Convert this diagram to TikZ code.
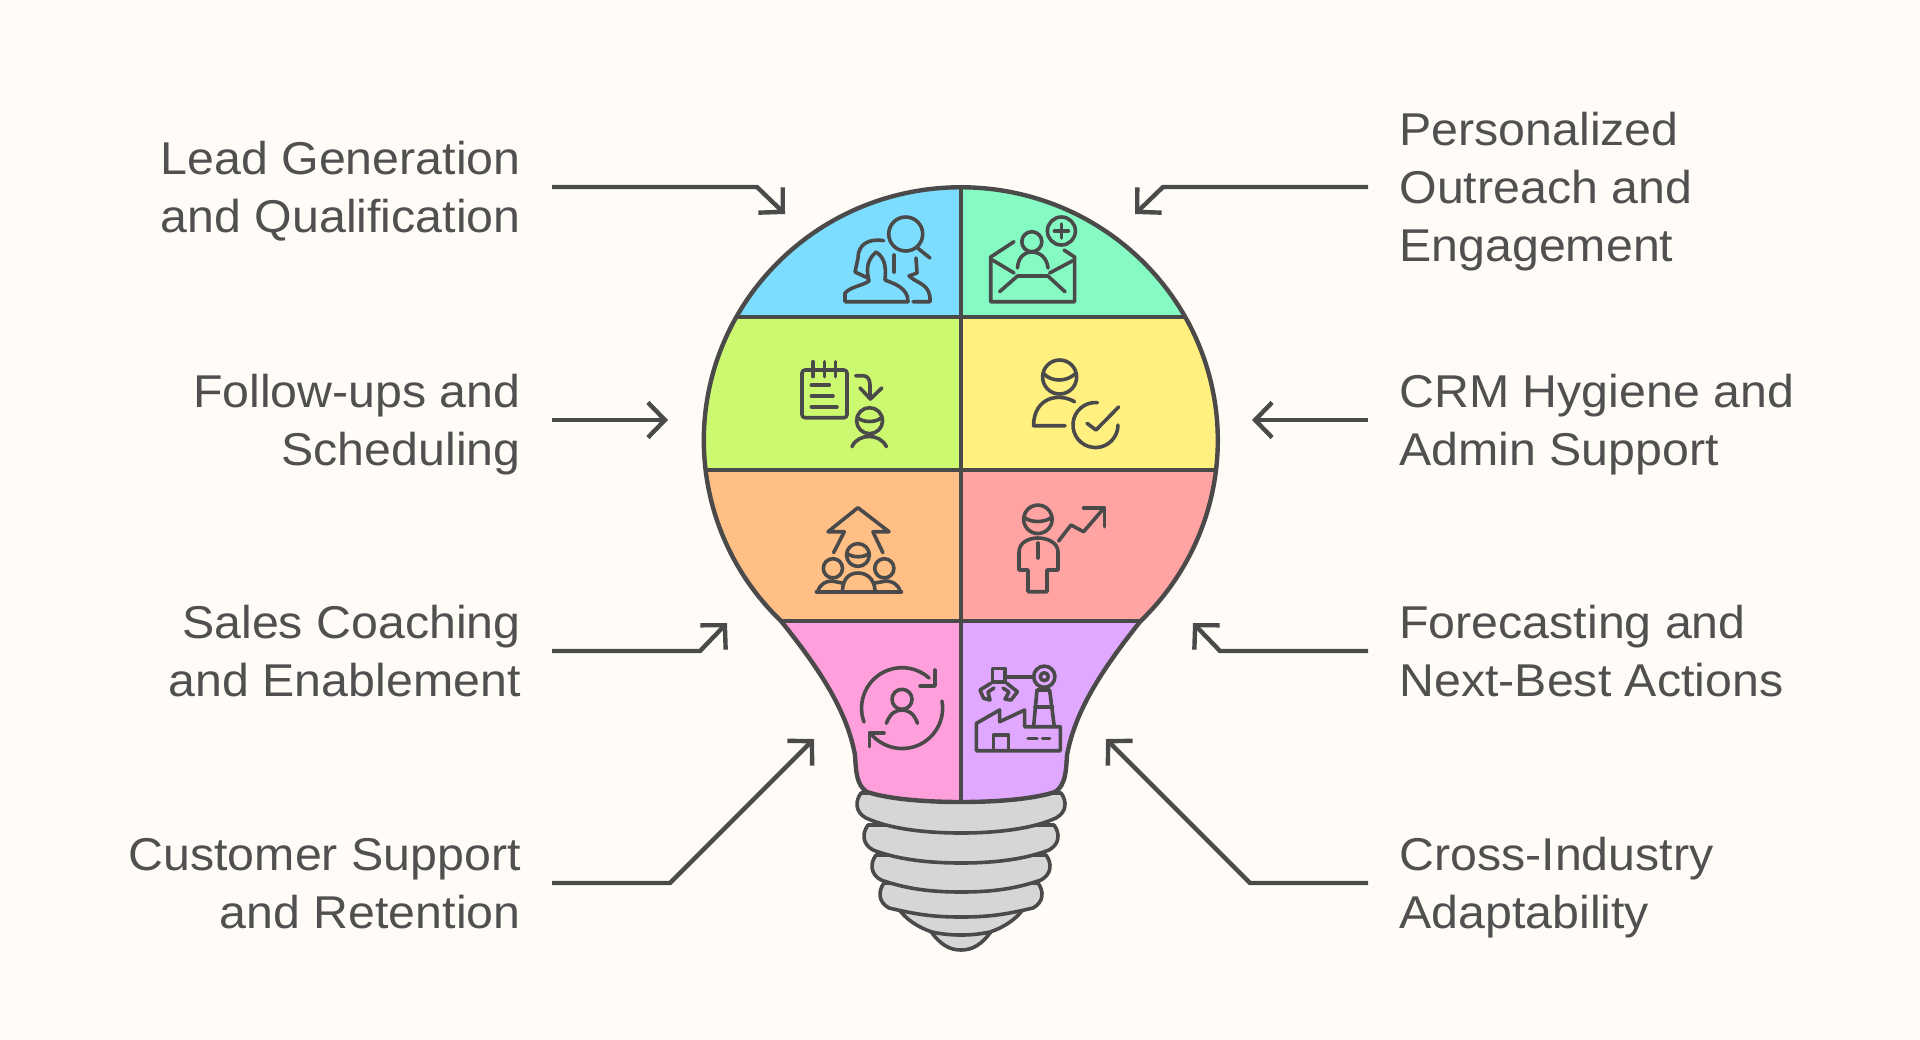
\documentclass[tikz,border=0pt]{standalone}
\usepackage{fontspec}
\setmainfont[FakeStretch=1.05]{Liberation Sans}
\usetikzlibrary{arrows.meta}
\definecolor{bgcol}{HTML}{FFFCF8}
\definecolor{inkcol}{HTML}{4A4A4A}
\definecolor{txtcol}{HTML}{505050}
\definecolor{basecol}{HTML}{D6D6D6}
\definecolor{bluecol}{HTML}{7DDDFF}
\definecolor{mintcol}{HTML}{85FBC3}
\definecolor{limecol}{HTML}{CDF970}
\definecolor{yellcol}{HTML}{FFF080}
\definecolor{orngcol}{HTML}{FFBF85}
\definecolor{redcol}{HTML}{FFA3A3}
\definecolor{pinkcol}{HTML}{FFA0DC}
\definecolor{purpcol}{HTML}{E0A8FF}
\newcommand{\lblstrut}{\rule[-6pt]{0pt}{28.5pt}}
\newcommand{\bulbpath}{(781,621) arc[start angle=225.6, end angle=-45.6, x radius=128.5pt, y radius=126.5pt]
  .. controls (1100,672) and (1075,712) .. (1067,755)
  .. controls (1066,770) and (1066,785) .. (1055,792)
  .. controls (1030,800) and (990,802) .. (961,802)
  .. controls (932,802) and (892,800) .. (867,792)
  .. controls (856,785) and (856,770) .. (855,755)
  .. controls (847,712) and (822,672) .. (781,621) -- cycle}
\tikzset{
  leftlbl/.style={anchor=east,font=\fontsize{23}{29}\selectfont,text=txtcol,align=right,inner xsep=15.5pt,inner ysep=0pt},
  rightlbl/.style={anchor=west,font=\fontsize{23}{29}\selectfont,text=txtcol,align=left,inner xsep=15.5pt,inner ysep=0pt},
  conn/.style={draw=inkcol,line width=2.2pt,->},
  icon/.style={draw=inkcol,line width=1.8pt,line cap=round,line join=round},
}
\begin{document}
\begin{tikzpicture}[x=0.5pt,y=-0.5pt,>={Straight Barb[length=8.5pt,width=17.5pt]}]
\useasboundingbox (0,0) rectangle (1920,1039);
\fill[bgcol] (0,0) rectangle (1920,1039);
% labels
\node[leftlbl] (lead) at (552,187) {\lblstrut Lead Generation\\\lblstrut and Qualification};
\node[leftlbl] (follow) at (552,420) {\lblstrut Follow-ups and\\\lblstrut Scheduling};
\node[leftlbl] (coach) at (552,651) {\lblstrut Sales Coaching\\\lblstrut and Enablement};
\node[leftlbl] (support) at (552,883) {\lblstrut Customer Support\\\lblstrut and Retention};
\node[rightlbl] (outreach) at (1368,187) {\lblstrut Personalized\\\lblstrut Outreach and\\\lblstrut Engagement};
\node[rightlbl] (crm) at (1368,420) {\lblstrut CRM Hygiene and\\\lblstrut Admin Support};
\node[rightlbl] (forecast) at (1368,651) {\lblstrut Forecasting and\\\lblstrut Next-Best Actions};
\node[rightlbl] (adapt) at (1368,883) {\lblstrut Cross-Industry\\\lblstrut Adaptability};
% connectors
\coordinate (leadbend) at (757,187);
\coordinate (leadtip) at (785,214);
\coordinate (followtip) at (668,420);
\coordinate (coachbend) at (700,651);
\coordinate (coachtip) at (727,623);
\coordinate (supportbend) at (670,883);
\coordinate (supporttip) at (814,739);
\coordinate (outreachbend) at (1163,187);
\coordinate (outreachtip) at (1135,214);
\coordinate (crmtip) at (1252,420);
\coordinate (forecastbend) at (1220,651);
\coordinate (forecasttip) at (1193,623);
\coordinate (adaptbend) at (1250,883);
\coordinate (adapttip) at (1106,739);
\draw[conn] (lead.east) -- (leadbend) -- (leadtip);
\draw[conn] (follow.east) -- (followtip);
\draw[conn] (coach.east) -- (coachbend) -- (coachtip);
\draw[conn] (support.east) -- (supportbend) -- (supporttip);
\draw[conn] (outreach.west) -- (outreachbend) -- (outreachtip);
\draw[conn] (crm.west) -- (crmtip);
\draw[conn] (forecast.west) -- (forecastbend) -- (forecasttip);
\draw[conn] (adapt.west) -- (adaptbend) -- (adapttip);
% screw base, lowest ring first
\draw[draw=inkcol,line width=1.8pt,fill=basecol] (930,930) .. controls (940,945) and (950,950) .. (961,950) .. controls (972,950) and (982,945) .. (992,930) -- cycle;
\draw[draw=inkcol,line width=1.8pt,fill=basecol] (896,905) .. controls (905,920) and (920,928) .. (932,932) .. controls (950,936) and (972,936) .. (990,932) .. controls (1002,928) and (1017,920) .. (1026,905) -- cycle;
\foreach \hw/\yt/\yb in {81/883/917,89/855/892,97/825/863,104/793/833}{
  \draw[draw=inkcol,line width=1.8pt,fill=basecol,line join=round]
    ({961-\hw+4},\yt) .. controls ({961-\hw-2},{\yt+8}) and ({961-\hw-2},{\yt+19}) .. ({961-\hw+9},{\yt+25})
    .. controls ({961-\hw+35},{\yb-3}) and ({961-30},\yb) .. (961,\yb)
    .. controls ({961+30},\yb) and ({961+\hw-35},{\yb-3}) .. ({961+\hw-9},{\yt+25})
    .. controls ({961+\hw+2},{\yt+19}) and ({961+\hw+2},{\yt+8}) .. ({961+\hw-4},\yt) -- cycle;
}
% bulb
\begin{scope}
\clip \bulbpath;
\fill[bluecol] (690,170) rectangle (961,317);
\fill[mintcol] (961,170) rectangle (1230,317);
\fill[limecol] (690,317) rectangle (961,470);
\fill[yellcol] (961,317) rectangle (1230,470);
\fill[orngcol] (690,470) rectangle (961,621);
\fill[redcol] (961,470) rectangle (1230,621);
\fill[pinkcol] (690,621) rectangle (961,810);
\fill[purpcol] (961,621) rectangle (1230,810);
\draw[draw=inkcol,line width=2.4pt] (961,170) -- (961,810);
\draw[draw=inkcol,line width=2.4pt] (690,317) -- (1230,317);
\draw[draw=inkcol,line width=2.4pt] (690,470) -- (1230,470);
\draw[draw=inkcol,line width=2.4pt] (690,621) -- (1230,621);
\end{scope}
\draw[draw=inkcol,line width=2.2pt] \bulbpath;
% blue: people and magnifier
\draw[icon] (905.7,234) circle[radius=8.5pt];
\draw[icon] (917.5,248) -- (930,258);
\draw[icon] (845,293) .. controls (852,286) and (862,286) .. (869,281) .. controls (867,272) and (865,262) .. (876,252) .. controls (886,258) and (886,270) .. (885,280) .. controls (895,284) and (908,288) .. (908,301.7) -- (845,301.7) -- cycle;
\draw[icon] (883.6,240.7) .. controls (868,238) and (858,245) .. (858,258) -- (855,272) -- (868,278);
\draw[icon] (894,255) -- (894,272);
\draw[icon] (916,258) -- (917,273) -- (909,276) .. controls (918,284) and (931,284) .. (930,301.7) -- (913,301.7);
% mint: open envelope with person
\draw[icon] (1061.4,231) circle[radius=7pt];
\draw[icon] (1061.4,224) -- (1061.4,238) (1054.4,231) -- (1068.4,231);
\draw[icon] (1031.8,241.7) circle[radius=5pt];
\draw[icon] (1017.5,268) .. controls (1018,258) and (1024,252) .. (1031.8,252) .. controls (1040,252) and (1047,258) .. (1048,268);
\draw[icon] (1014,241.7) -- (990.7,257) -- (990.7,301.7) -- (1074.6,301.7) -- (1074.6,257) -- (1064,250);
\draw[icon] (992.5,260) -- (1014,273) (1074,260) -- (1049.6,273);
\draw[icon] (999.6,291.7) -- (1017.5,276) -- (1047.9,276) -- (1065,291.7);
% lime: notepad, arrow and person
\draw[icon,rounded corners=1.5pt] (802,370) rectangle (847,417.7);
\draw[icon] (813,361.7) -- (813,376.7) (824.6,361.7) -- (824.6,376.7) (835.4,361.7) -- (835.4,376.7);
\draw[icon] (811.4,385) -- (829.3,385) (811.4,395.7) -- (833,395.7) (811.4,406.7) -- (837,406.7);
\draw[icon] (855.7,375.7) -- (863,375.7) .. controls (868,375.7) and (870,380) .. (870,385) -- (870,398);
\draw[icon] (860,388) -- (870.4,399) -- (881.8,388);
\draw[icon] (869.6,420.7) circle[radius=6.5pt];
\draw[icon] (857,417) .. controls (862,423) and (877,423) .. (882,417);
\draw[icon] (852,446.7) .. controls (858,433) and (880,433) .. (886.4,446.7);
% yellow: person and check
\draw[icon] (1059.6,377) circle[radius=8.5pt];
\draw[icon] (1044,374) .. controls (1052,382) and (1066,382) .. (1075,374);
\draw[icon] (1074.6,401.7) .. controls (1058,392) and (1033.6,398) .. (1033.6,425.7) -- (1065,425.7);
\draw[icon] (1097.4,402.6) arc[start angle=85,end angle=360,radius=11.25pt];
\draw[icon] (1087,423.3) -- (1096,430) -- (1118.6,407);
% orange: team with arrow
\draw[icon] (833.6,552.7) -- (844.3,531.7) -- (828,531.7) -- (857.9,507.7) -- (889,531.7) -- (872.9,531.7) -- (882.9,552.7);
\draw[icon] (857.9,555) circle[radius=5.7pt];
\draw[icon] (846.5,553) .. controls (852,558) and (864,558) .. (869.5,553);
\draw[icon] (832.9,568.3) circle[radius=4.8pt];
\draw[icon] (884.3,568.3) circle[radius=4.8pt];
\draw[icon] (816.4,591.7) -- (901.4,591.7);
\draw[icon] (842.5,590) .. controls (843,578) and (850,573) .. (857.9,573) .. controls (866,573) and (874,578) .. (875,590);
\draw[icon] (818,591) .. controls (820,584) and (826,581) .. (832,581) -- (842,583);
\draw[icon] (900,591) .. controls (898,584) and (892,581) .. (886,581) -- (875,583);
% red: person and trend
\draw[icon] (1037.9,519.3) circle[radius=7.1pt];
\draw[icon] (1024,517) .. controls (1030,523) and (1045,523) .. (1052,517);
\draw[icon] (1028,570) -- (1019,570) -- (1019,552) .. controls (1019,543) and (1028,538) .. (1037.9,538) .. controls (1048,538) and (1058,543) .. (1058,552) -- (1058,570) -- (1047,570) -- (1047,591.7) -- (1028,591.7) -- cycle;
\draw[icon] (1037.9,543) -- (1037.9,558);
\draw[icon] (1058.6,541) -- (1071,525) -- (1083.6,531.7) -- (1104.3,507.7);
\draw[icon] (1083.6,507.7) -- (1104.3,507.7) -- (1104.3,526.7);
% pink: person in a cycle
\draw[icon] (864,722) arc[start angle=200,end angle=48,radius=20.25pt];
\draw[icon] (935,670) -- (935,686) -- (920,686);
\draw[icon] (942,701) arc[start angle=10,end angle=-138,radius=20.25pt];
\draw[icon] (869.3,746.7) -- (869.3,733) -- (884,733);
\draw[icon] (902,699.3) circle[radius=5pt];
\draw[icon] (886.4,723.3) .. controls (890,713) and (896,710) .. (902,710) .. controls (908,710) and (914,713) .. (917.5,723.3);
% purple: factory with robot arm
\draw[icon] (976.4,723.3) -- (999.6,710) -- (999.6,721.7) -- (1024.6,710) -- (1024.6,726.7) -- (1060.4,726.7) -- (1060.4,750.7) -- (976.4,750.7) -- cycle;
\draw[icon] (993.6,750) -- (993.6,735) -- (1008.6,735) -- (1008.6,750);
\draw[icon] (1028,738.3) -- (1037,738.3) (1042.5,738.3) -- (1049.6,738.3);
\draw[icon] (1033.6,726.7) -- (1037,690) -- (1049.6,690) -- (1054.3,726.7);
\draw[icon] (1035,706.7) -- (1052.5,706.7);
\draw[icon] (1044.3,676.7) circle[radius=5.3pt];
\draw[icon] (1044.3,676.7) circle[radius=2pt];
\draw[icon] (1005,676.7) -- (1033.6,676.7);
\draw[icon] (992.5,681.7) -- (992.5,668.3) -- (1005,668.3) -- (1005,681.7) -- cycle;
\draw[icon] (990.7,683.3) -- (980,690) -- (983.6,698.3) -- (990,700) -- (988,692) -- (994,688);
\draw[icon] (1006.8,683.3) -- (1017.5,691.7) -- (1011,700) -- (1005,699) -- (1009,692) -- (1003,688);
\end{tikzpicture}
\end{document}
